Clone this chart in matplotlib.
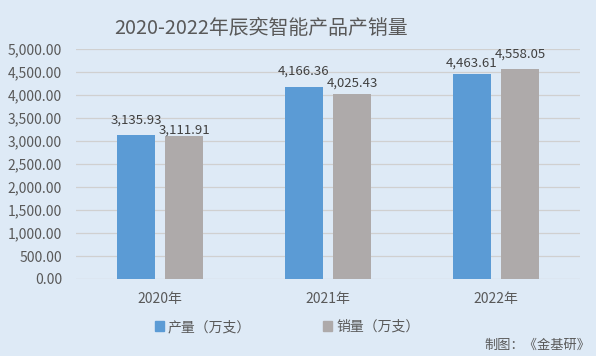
import matplotlib
matplotlib.use("Agg")
import matplotlib.pyplot as plt
from matplotlib.patches import Patch
import numpy as np

plt.rcParams['font.family'] = ['Noto Sans CJK SC', 'DejaVu Sans']

# data
years = ["2020年", "2021年", "2022年"]
production = [3135.93, 4166.36, 4463.61]
sales = [3111.91, 4025.43, 4558.05]
series_names = ["产量（万支）", "销量（万支）"]

# label lift above bar top (pixels), as placed in the original
lift_prod = [11, 13, 7]
lift_sales = [2, 7, 12]

bg = '#DEEAF6'
txt = '#595959'
c_prod = '#5B9BD5'
c_sales = '#AEAAAA'

fig = plt.figure(figsize=(5.96, 3.56), dpi=100, facecolor=bg)
ax = fig.add_axes([76/596, 1-279/356, 504/596, 230/356])
ax.set_facecolor(bg)

x = np.arange(len(years))
w = 0.226
off = 0.143
b1 = ax.bar(x - off, production, w, color=c_prod, zorder=3)
b2 = ax.bar(x + off, sales, w, color=c_sales, zorder=3)

for bars, vals, lifts in [(b1, production, lift_prod), (b2, sales, lift_sales)]:
    for r, v, l in zip(bars, vals, lifts):
        ax.annotate(f"{v:,.2f}", (r.get_x() + r.get_width()/2, v),
                    xytext=(0, l), textcoords='offset pixels',
                    ha='center', va='baseline', fontsize=9.5, color='#404040')

ax.set_xlim(-0.5, 2.5)
ax.set_ylim(0, 5000)
ax.set_yticks(np.arange(0, 5001, 500))
ax.set_yticklabels([f"{t:,.2f}" for t in np.arange(0, 5001, 500)])
ax.set_xticks(x)
ax.set_xticklabels(years)
ax.tick_params(axis='both', length=0, labelsize=10, colors=txt)
ax.tick_params(axis='y', pad=10)
ax.tick_params(axis='x', pad=9)
ax.grid(axis='y', color='#D0D0D0', linewidth=0.9, zorder=0)
for s in ax.spines.values():
    s.set_visible(False)

fig.text(261/596, 1-28/356, "2020-2022年辰奕智能产品产销量", ha='center', va='center',
         fontsize=14.3, color=txt)

handles = [Patch(color=c_prod), Patch(color=c_sales)]
fig.legend(handles, series_names, loc='center left', bbox_to_anchor=(142/596, 1-327/356),
           ncol=2, frameon=False, fontsize=10, handlelength=0.65, handleheight=0.65,
           handletextpad=0.3, columnspacing=5.2, labelcolor=txt)

fig.text(590/596, 1-345/356, "制图：《金基研》", ha='right', va='center',
         fontsize=9.5, color=txt)

fig.savefig("out.png", dpi=100, facecolor=bg)
